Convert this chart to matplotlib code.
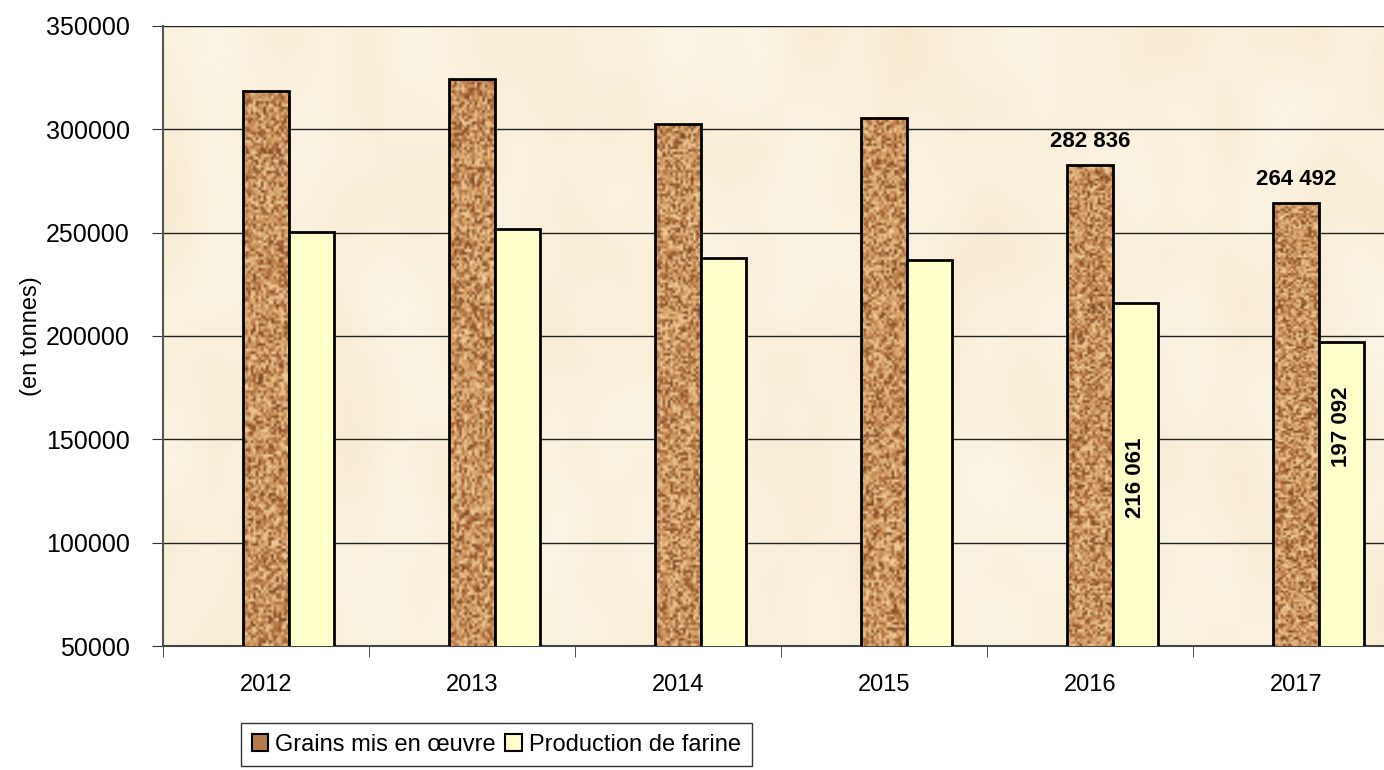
import numpy as np
import matplotlib
matplotlib.use("Agg")
import matplotlib.pyplot as plt
from matplotlib.patches import Patch

plt.rcParams['font.family'] = ['Liberation Sans', 'DejaVu Sans']

# Values (tonnes)
years = ['2012', '2013', '2014', '2015', '2016', '2017']
grains = [318700, 324300, 302600, 305500, 282836, 264492]
farine = [250200, 251800, 237800, 236800, 216061, 197092]
grains_label = {4: '282 836', 5: '264 492'}
farine_label = {4: '216 061', 5: '197 092'}

rng = np.random.default_rng(7)

fig = plt.figure(figsize=(13.84, 7.70), dpi=100)
ax = fig.add_axes([163 / 1384, 1 - 646 / 770, 1236 / 1384, 620 / 770])

x = np.arange(len(years))
w = 0.22

# parchment-like background
bg = rng.random((12, 40))
bg_cmap = matplotlib.colors.LinearSegmentedColormap.from_list('bg', ['#F7EAD0', '#FCF6E8'])
ax.imshow(bg, cmap=bg_cmap, interpolation='bicubic', aspect='auto',
          extent=(-0.5, 5.5, 50000, 350000), zorder=0)

ax.set_xlim(-0.5, 5.5)
ax.set_ylim(50000, 350000)
ax.set_yticks(np.arange(50000, 350001, 50000))
ax.grid(axis='y', color='#222222', linewidth=1, zorder=1)

bars_g = ax.bar(x, grains, w, bottom=0, color='#C58D57', edgecolor='black', linewidth=2, zorder=3)
bars_f = ax.bar(x + w, farine, w, bottom=0, color='#FFFFCC', edgecolor='black', linewidth=2, zorder=3)

# cork texture on the grain bars
cork = matplotlib.colors.LinearSegmentedColormap.from_list(
    'cork', ['#7A4520', '#B07040', '#CC955E', '#DEAE78', '#F2D2A2'])
for b in bars_g:
    tex = rng.random((200, 18))
    im = ax.imshow(tex, cmap=cork, interpolation='bilinear', aspect='auto',
                   extent=(b.get_x(), b.get_x() + b.get_width(), 50000, b.get_height()),
                   zorder=2.9)
    im.set_clip_path(b)
    b.set_facecolor('none')

for i, txt in grains_label.items():
    ax.annotate(txt, (x[i], grains[i]), xytext=(0, 9), textcoords='offset points',
                ha='center', va='bottom', fontsize=16, fontweight='bold', zorder=5)

farine_pos = {4: 0.49, 5: 0.72}
for i, txt in farine_label.items():
    ypos = 50000 + (farine[i] - 50000) * farine_pos[i]
    ax.text(x[i] + w, ypos, txt, rotation=90, ha='center', va='center',
            fontsize=16, fontweight='bold', zorder=5)

ax.set_xticks(x)
ax.set_xticklabels(years, fontsize=17)
ax.set_xticks(np.arange(-0.5, 6, 1), minor=True)
ax.tick_params(axis='x', which='major', length=0, pad=20)
ax.tick_params(axis='x', which='minor', length=8, color='#333333')
ax.tick_params(axis='y', labelsize=18, length=8, color='#333333', pad=16)

for s in ['top', 'right']:
    ax.spines[s].set_visible(False)
ax.spines['left'].set_color('#555555')
ax.spines['bottom'].set_color('#444444')
ax.spines['left'].set_linewidth(1.5)
ax.spines['bottom'].set_linewidth(1.5)

ax.set_ylabel('(en tonnes)', fontsize=17, labelpad=3)

handles = [Patch(facecolor='#B47C4A', edgecolor='black', linewidth=1.5),
           Patch(facecolor='#FFFFCC', edgecolor='black', linewidth=1.5)]
leg = fig.legend(handles, ['Grains mis en œuvre', 'Production de farine'],
                 loc='upper left', bbox_to_anchor=(241 / 1384, 1 - 723 / 770), ncol=2,
                 fontsize=17, frameon=True, fancybox=False, edgecolor='black',
                 handlelength=0.7, handleheight=0.7, handletextpad=0.3,
                 columnspacing=0.4, borderpad=0.45, borderaxespad=0)
leg.get_frame().set_linewidth(1)

fig.savefig('out.png', dpi=100)
